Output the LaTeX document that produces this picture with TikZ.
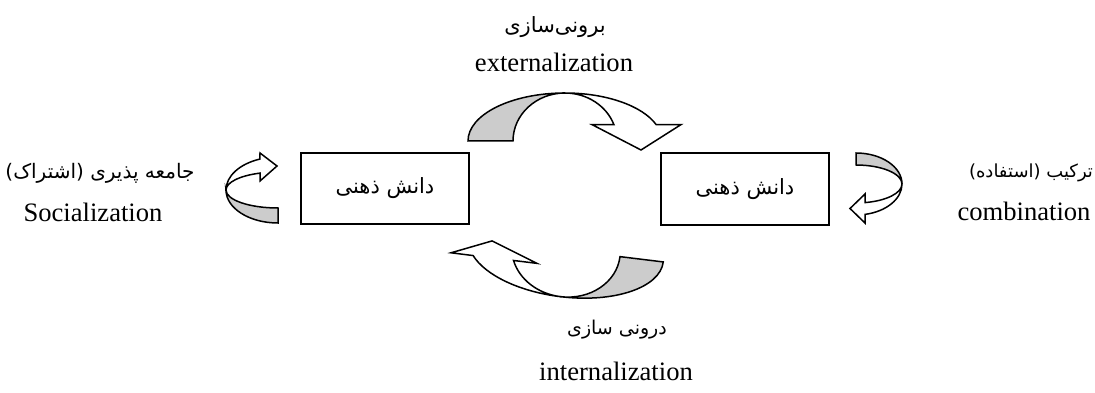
\documentclass[tikz,border=0pt]{standalone}
\usepackage{fontspec}
\setmainfont{Liberation Serif}
\newfontfamily\fa[Script=Arabic]{DejaVu Sans}
\TeXXeTstate=1
\definecolor{bandgray}{RGB}{204,204,204}
\tikzset{
  fatext/.style={font=\fa\fontsize{#1}{#1}\selectfont, inner sep=0pt},
  fatext/.default=20,
  entext/.style={font=\fontsize{26.6}{30}\selectfont, inner sep=0pt},
  kbox/.style={draw, line width=2pt, minimum width=168pt, minimum height=71pt, inner sep=0pt, font=\fa\fontsize{21}{24}\selectfont},
  band/.style={draw, line width=1.5pt, line join=miter, fill=bandgray},
  face/.style={draw, line width=1.5pt, line join=miter, fill=white},
}
\begin{document}
\begin{tikzpicture}[x=1pt,y=-1pt]
\useasboundingbox (0,0) rectangle (1095,393);

% knowledge boxes
\node[kbox] (left) at (385,188.5) {\beginR دانش ذهنی\endR};
\node[kbox] (right) at (745,189) {\beginR دانش ذهنی\endR};

% labels
\node[fatext=21] (extfa) at (555,27) {\beginR برونی‌سازی\endR};
\node[entext] (exten) at (554,62) {externalization};
\node[fatext=20] (socfa) at (100,173) {\beginR جامعه پذیری (اشتراک)\endR};
\node[entext] (socen) at (93,212) {Socialization};
\node[fatext=18] (comfa) at (1031,173) {\beginR ترکیب (استفاده)\endR};
\node[entext] (comen) at (1024,211) {combination};
\node[fatext=19] (intfa) at (617,330) {\beginR درونی سازی\endR};
\node[entext] (inten) at (616,371) {internalization};

% top curved arrow (externalization)
\draw[band] (468,141) arc[start angle=180,end angle=270,x radius=97,y radius=48]
  arc[start angle=270,end angle=180,x radius=52,y radius=48] -- cycle;
\draw[face] (565,93) arc[start angle=270,end angle=340,x radius=97,y radius=48]
  -- (681,124.6) -- (641,150) -- (592,124.6) -- (613.9,124.6)
  arc[start angle=340,end angle=270,x radius=52,y radius=48] -- cycle;

% bottom curved arrow (internalization)
\begin{scope}[shift={(566,250)},rotate=-7]
\draw[band] (54.4,0) arc[start angle=0,end angle=90,x radius=54.4,y radius=47]
  arc[start angle=90,end angle=0,x radius=98,y radius=47] -- cycle;
\draw[face] (0,47) arc[start angle=90,end angle=159,x radius=98,y radius=47]
  -- (-113.8,16.8) -- (-74.5,0) -- (-27.2,16.8) -- (-50.8,16.8)
  arc[start angle=159,end angle=90,x radius=54.4,y radius=47] -- cycle;
\end{scope}

% left curved arrow (socialization)
\draw[band] (278,223) arc[start angle=90,end angle=180,x radius=52,y radius=33]
  arc[start angle=180,end angle=90,x radius=52,y radius=18] -- cycle;
\draw[face] (226,190) arc[start angle=180,end angle=249.7,x radius=52,y radius=33]
  -- (260,153) -- (277,166) -- (260,181) -- (260,173.1)
  arc[start angle=249.7,end angle=180,x radius=52,y radius=18] -- cycle;

% right curved arrow (combination)
\draw[band] (856,153) arc[start angle=270,end angle=360,x radius=46,y radius=31]
  arc[start angle=0,end angle=-90,x radius=46,y radius=19] -- cycle;
\draw[face] (902,184) arc[start angle=0,end angle=78.7,x radius=46,y radius=31]
  -- (865,223) -- (850,208.5) -- (865,194) -- (865,202.6)
  arc[start angle=78.7,end angle=0,x radius=46,y radius=19] -- cycle;
\end{tikzpicture}
\end{document}
